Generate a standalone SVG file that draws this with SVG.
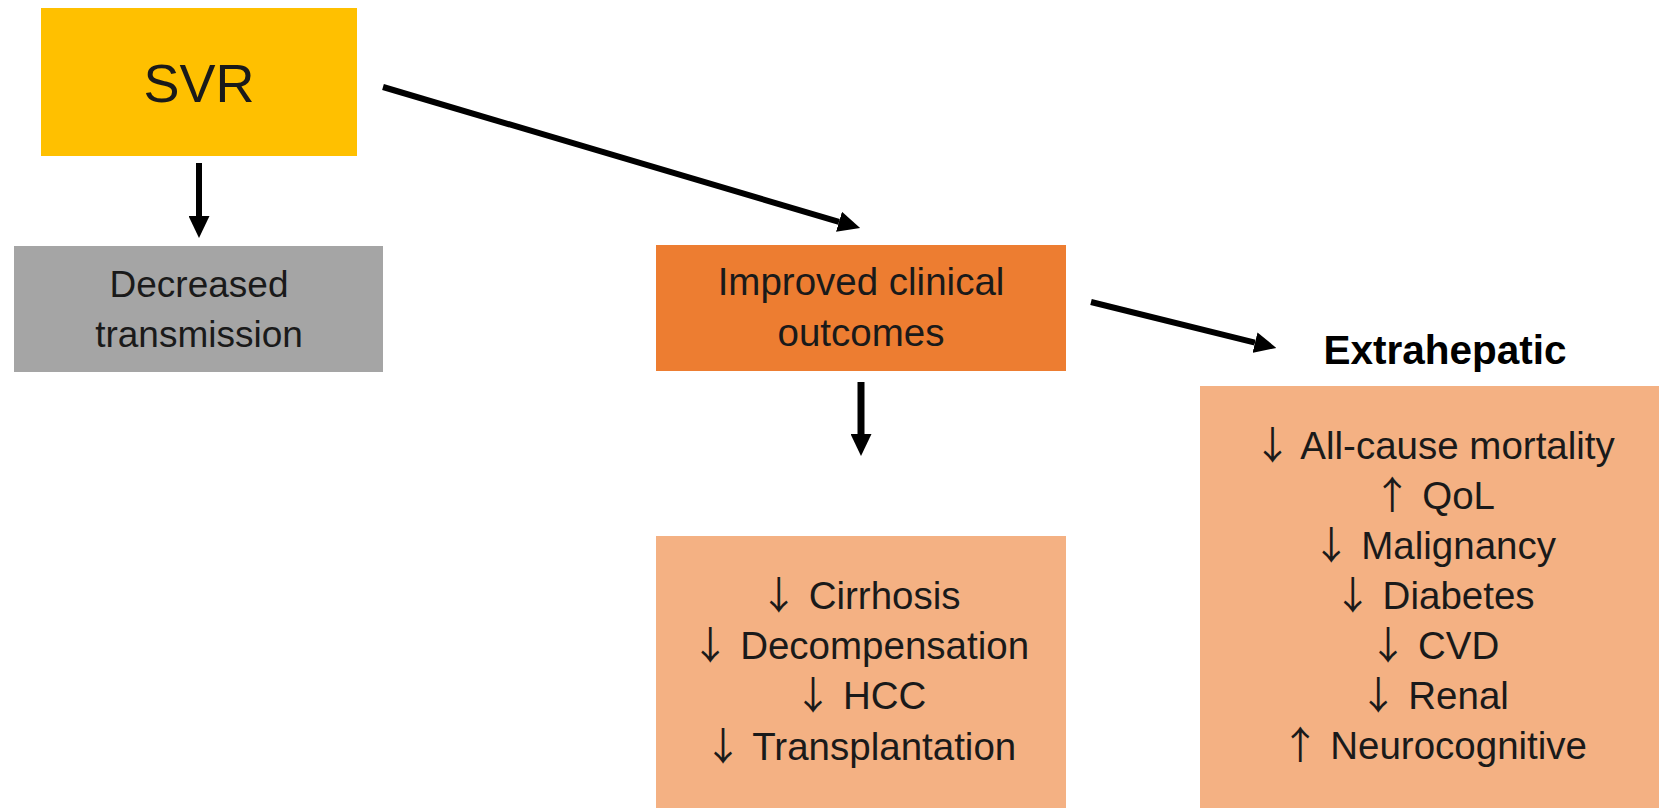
<svg xmlns="http://www.w3.org/2000/svg" width="1659" height="808" viewBox="0 0 1659 808">
<style>
.t{font-family:"Liberation Sans",Arial,sans-serif;font-size:37px;fill:#1a1a1a;text-anchor:middle}
.m{font-size:38.5px}
.a{font-family:"Noto Sans CJK JP","Noto Sans CJK SC",sans-serif}
.big{font-size:54px}
.hd{font-family:"Liberation Sans",Arial,sans-serif;font-size:40.5px;font-weight:bold;fill:#000;text-anchor:middle}
.c{stroke:#000;fill:none}
</style>
<defs>
<marker id="ah" viewBox="0 0 22 21" refX="0" refY="10.5" markerWidth="22" markerHeight="21" markerUnits="userSpaceOnUse" orient="auto">
<path d="M0,0 L22,10.5 L0,21 Z" fill="#000"/>
</marker>
</defs>
<rect width="1659" height="808" fill="#fff"/>
<g id="svr">
<rect x="41" y="8" width="316" height="148" fill="#FFC000"/>
<text class="t big" x="199" y="102">SVR</text>
</g>
<g id="decreased">
<rect x="14" y="246" width="369" height="126" fill="#A5A5A5"/>
<text class="t" x="199" y="297">Decreased</text>
<text class="t" x="199" y="347">transmission</text>
</g>
<g id="improved">
<rect x="656" y="245" width="410" height="126" fill="#ED7D31"/>
<text class="t m" x="861" y="295">Improved clinical</text>
<text class="t m" x="861" y="346">outcomes</text>
</g>
<g id="hepatic">
<rect x="656" y="536" width="410" height="272" fill="#F4B183"/>
<text class="t m" x="860" y="609"><tspan class="a">↓</tspan> Cirrhosis</text>
<text class="t m" x="860" y="659"><tspan class="a">↓</tspan> Decompensation</text>
<text class="t m" x="860" y="709"><tspan class="a">↓</tspan> HCC</text>
<text class="t m" x="860" y="760"><tspan class="a">↓</tspan> Transplantation</text>
</g>
<g id="extrahepatic-title">
<text class="hd" x="1445" y="364">Extrahepatic</text>
</g>
<g id="extrahepatic">
<rect x="1200" y="386" width="459" height="422" fill="#F4B183"/>
<text class="t m" x="1434" y="459"><tspan class="a">↓</tspan> All-cause mortality</text>
<text class="t m" x="1434" y="509"><tspan class="a">↑</tspan> QoL</text>
<text class="t m" x="1434" y="559"><tspan class="a">↓</tspan> Malignancy</text>
<text class="t m" x="1434" y="609"><tspan class="a">↓</tspan> Diabetes</text>
<text class="t m" x="1434" y="659"><tspan class="a">↓</tspan> CVD</text>
<text class="t m" x="1434" y="709"><tspan class="a">↓</tspan> Renal</text>
<text class="t m" x="1434" y="759"><tspan class="a">↑</tspan> Neurocognitive</text>
</g>
<g id="connectors">
<line class="c" x1="199" y1="163" x2="199" y2="216" stroke-width="6" marker-end="url(#ah)"/>
<line class="c" x1="383" y1="87" x2="839" y2="221.8" stroke-width="6" marker-end="url(#ah)"/>
<line class="c" x1="861" y1="382" x2="861" y2="434" stroke-width="7" marker-end="url(#ah)"/>
<line class="c" x1="1091" y1="302" x2="1255" y2="342.6" stroke-width="6" marker-end="url(#ah)"/>
</g>
</svg>
